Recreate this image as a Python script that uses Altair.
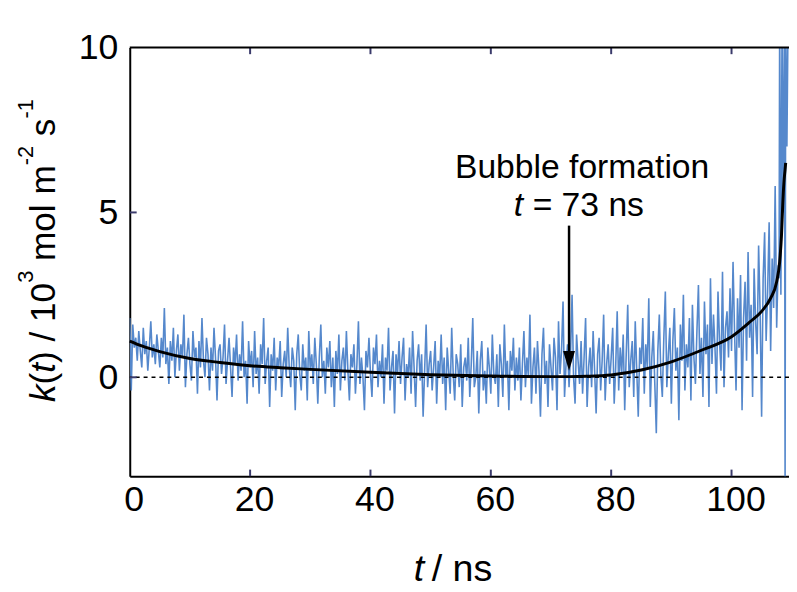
import altair as alt
import pandas as pd

FONT = "Liberation Sans"

# ---- noisy k(t) series (t = 0, 0.25, ... 107.75 ns) ----
k_raw = [
    1.8, -0.4, 1.6, 0.9, 1.2, 0.5, 1.4, 0.8, 0.3, 1.5, 0.7, 1.1, 0.2, 0.9, 1.7, 0.6, 1.0, 0.4, 1.3, 0.8,
    0.3, 1.2, 0.6, 2.1, 0.4, 0.9, -0.2, 1.1, 0.5, 1.5, 0.0, 0.8, 1.3, 0.2, 1.0, 0.6, 1.9, -0.3, 0.7, 1.2,
    0.4, -0.1, 1.4, 0.6, 0.9, -0.5, 1.1, 0.3, 1.8, 0.5, 0.0, 1.2, 0.7, -0.4, 0.9, 0.2, 1.5, 0.6, -0.7, 0.8,
    1.0, 0.1, 0.6, 1.6, -0.2, 0.5, 1.2, 0.3, -0.6, 0.9, 0.4, 1.3, -0.1, 0.7, 0.2, 1.7, 0.0, 0.5, -0.8, 1.1,
    0.3, 0.8, -0.3, 1.4, 0.1, 0.6, -0.5, 1.0, 0.4, 1.8, -0.2, 0.5, 0.9, -0.9, 0.7, 0.2, 1.2, -0.4, 0.6, 0.3,
    1.1, -0.6, 0.4, 0.8, 0.0, 1.5, 0.3, -0.3, 0.9, 0.5, -1.0, 0.7, 1.3, 0.1, -0.4, 1.0, 0.2, 0.6, -0.7, 1.4,
    0.2, 0.7, -0.2, 1.2, 0.4, -0.8, 0.6, 1.6, 0.0, 0.5, -0.5, 0.9, 0.3, 1.1, -0.3, 0.6, -0.9, 0.8, 0.1, 1.3,
    -0.4, 0.5, 0.9, -0.1, 1.4, 0.2, -0.7, 0.7, 0.3, 1.0, -0.5, 0.4, 1.7, -0.2, 0.6, 0.0, -1.0, 0.8, 0.3, 1.2,
    0.1, -0.6, 0.9, 0.4, 1.3, -0.3, 0.5, 0.0, 1.0, -0.8, 0.6, 0.2, 1.5, -0.4, 0.3, 0.8, -1.1, 0.7, 0.1, 1.1,
    -0.2, 0.6, 1.2, -0.7, 0.4, 0.0, 0.9, -0.5, 1.4, 0.3, -0.9, 0.5, 1.0, -0.1, 0.7, -1.2, 0.2, 1.6, -0.3, 0.4,
    0.8, -0.4, 0.3, 1.1, -0.8, 0.5, 0.0, 1.3, -0.2, 0.6, -1.0, 0.9, 0.2, -0.5, 1.5, 0.1, -0.7, 0.7, 0.4, -0.3,
    1.0, -0.9, 0.3, 0.6, -0.1, 1.2, -0.6, 0.4, 1.8, -0.3, 0.0, 0.8, -1.1, 0.5, 1.1, -0.4, 0.2, -0.8, 0.9, 0.3,
    -0.5, 1.3, 0.1, -0.2, 0.7, -0.9, 1.0, 0.4, -0.6, 1.6, 0.0, 0.5, -1.0, 0.8, 0.2, 1.2, -0.4, 0.6, -0.1, 0.9,
    -0.7, 0.4, 1.4, -0.3, 0.6, 0.0, 1.9, -0.8, 0.3, 0.9, -0.5, 1.1, 0.2, -1.2, 0.7, 1.5, -0.2, 0.5, -0.9, 1.0,
    0.3, -0.4, 1.2, 0.6, -1.0, 1.7, 0.1, 0.8, 2.3, -0.6, 0.4, 1.0, -0.3, 0.7, 2.5, 0.0, -0.8, 1.3, 0.5, -0.2,
    1.1, -0.5, 0.6, 1.8, -0.9, 0.3, 0.9, -0.3, 1.4, 0.2, -1.1, 0.7, 1.2, -0.4, 0.5, 1.9, -0.7, 0.4, 1.0, -0.2,
    0.6, 1.5, -0.8, 0.3, 2.0, -0.4, 0.9, 0.1, 1.3, -1.0, 0.7, 2.2, -0.3, 0.5, 1.1, -0.6, 1.7, 0.2, -1.2, 0.9,
    0.4, 1.8, -0.5, 1.0, 0.3, 2.4, -0.9, 0.6, 1.4, -0.2, -1.7, 0.8, 1.9, 0.1, -0.6, 1.2, 2.6, -0.3, 0.7, 1.5,
    -0.8, 1.1, 2.1, 0.2, 0.9, -1.3, 1.6, 0.5, 2.5, -0.4, 1.0, 0.3, 1.8, -0.7, 2.2, 0.6, -0.2, 1.4, 2.8, 0.1,
    1.2, -0.6, 2.3, 0.7, 1.6, -0.9, 3.0, 0.4, 1.9, 0.9, -0.5, 2.6, 1.1, 0.2, 3.2, -0.3, 1.5, 2.0, 0.6, 2.7,
    0.8, 3.5, 1.4, -0.4, 2.4, 0.9, 3.1, -1.0, 1.8, 2.9, 0.5, 3.8, 1.2, 2.2, -0.6, 3.3, 1.7, 0.7, 4.0, 2.0,
    -1.2, 3.0, 4.4, 1.1, 2.6, 4.7, 0.8, 3.6, 2.1, 5.8, 1.5, 3.4,
]
t_raw = [round(0.25 * i, 2) for i in range(len(k_raw))]

# final burst at bubble formation
t_burst = [107.9, 108.0, 108.2, 108.4, 108.6, 108.8, 108.9, 109.0, 109.2, 109.4]
k_burst = [3.0, 11.0, 2.5, 11.0, 5.0, 11.0, -3.5, 11.0, 7.0, 11.0]

# ---- smooth fitted curve ----
t_fit = [0, 2, 5, 10, 15, 20, 25, 30, 40, 50, 60, 70, 73, 76, 80, 85, 90, 95,
         100, 103, 105, 106.5, 107.5, 108.0, 108.3, 108.5, 108.7, 108.9, 109.0]
k_fit = [1.1, 0.95, 0.78, 0.57, 0.45, 0.35, 0.29, 0.24, 0.15, 0.08, 0.04, 0.02,
         0.02, 0.03, 0.07, 0.22, 0.47, 0.82, 1.23, 1.67, 2.0, 2.4, 2.9, 3.5,
         4.3, 5.2, 5.9, 6.3, 6.5]

x_ticks = [20, 40, 60, 80, 100]
y_ticks = [0, 5]

raw = pd.DataFrame({"t": t_raw + t_burst, "k": k_raw + k_burst})
fit = pd.DataFrame({"t": t_fit, "k": k_fit})
xt = pd.DataFrame({"t": x_ticks})
yt = pd.DataFrame({"k": y_ticks})
one = pd.DataFrame({"z": [0]})

XMAX = 109.55
xs = alt.Scale(domain=[0, XMAX], nice=False, zero=False)
ys = alt.Scale(domain=[-3, 10], nice=False, zero=False)

X = alt.X("t:Q", scale=xs, axis=alt.Axis(values=[0, 20, 40, 60, 80, 100], title=None,
                                          labelPadding=7, labelFlush=False, labelOffset=4))
Y = alt.Y("k:Q", scale=ys, axis=alt.Axis(values=[0, 5, 10], title=None, labelPadding=12))

blue = alt.Chart(raw).mark_line(color="#5588cc", strokeWidth=1.6, clip=True).encode(x=X, y=Y)
zero = alt.Chart(one).mark_rule(color="black", strokeWidth=1.5, strokeDash=[4, 4]).encode(y=alt.datum(0, scale=ys))
topline = alt.Chart(one).mark_rule(color="black", strokeWidth=2).encode(y=alt.datum(10, scale=ys))
curve = alt.Chart(fit).mark_line(color="black", strokeWidth=3, interpolate="monotone").encode(x=X, y=Y)

TICKC = "#3b3b6b"
bt = alt.Chart(xt).mark_rule(color=TICKC, strokeWidth=2).encode(
    x=alt.X("t:Q", scale=xs), y=alt.datum(-3), y2=alt.datum(-2.8))
tt = alt.Chart(xt).mark_rule(color=TICKC, strokeWidth=2).encode(
    x=alt.X("t:Q", scale=xs), y=alt.datum(10), y2=alt.datum(9.8))
lt = alt.Chart(yt).mark_rule(color=TICKC, strokeWidth=2).encode(
    y=alt.Y("k:Q", scale=ys), x=alt.datum(0), x2=alt.datum(1.15))

arrow = pd.DataFrame({"t": [73], "k": [4.6], "k2": [0.75], "kh": [0.5]})
shaft = alt.Chart(arrow).mark_rule(color="black", strokeWidth=2.5).encode(
    x=alt.X("t:Q", scale=xs), y=alt.Y("k:Q", scale=ys), y2="k2:Q")
head = alt.Chart(arrow).mark_point(shape="M-0.6,-1L0.6,-1L0,1Z", filled=True, size=400,
                                   color="black", opacity=1, strokeWidth=0).encode(
    x=alt.X("t:Q", scale=xs), y=alt.Y("kh:Q", scale=ys))


def txt(s, x, y, size, italic=False, angle=0, align="left"):
    return alt.Chart(one).mark_text(
        text=s, font=FONT, fontSize=size, fontStyle="italic" if italic else "normal",
        angle=angle, align=align, baseline="alphabetic", color="black"
    ).encode(x=alt.value(x), y=alt.value(y))


texts = []
# annotation
texts.append(txt("Bubble formation", 457, 132, 34, align="center"))
texts.append(txt("t", 388, 170, 34, italic=True))
texts.append(txt("= 73 ns", 407, 170, 34))
# x title
texts.append(txt("t", 287, 539, 38, italic=True))
texts.append(txt("/ ns", 305, 539, 38))

# y title, laid out bottom-to-top with Arial advance widths
W = {"k": 500, "(": 333, "t": 278, ")": 333, " ": 278, "/": 278, "1": 556, "0": 556,
     "3": 556, "m": 833, "o": 556, "l": 222, "-": 333, "2": 556, "s": 500}
MAIN, SUP = 35.5, 22
pieces = [("k", MAIN, True, False), ("(", MAIN, False, False), ("t", MAIN, True, False),
          (") / 10", MAIN, False, False), ("3", SUP, False, True),
          (" mol m", MAIN, False, False), ("-2", SUP, False, True),
          (" s", MAIN, False, False), ("-1", SUP, False, True)]
ypos = 403 - 45
for s, size, ital, sup in pieces:
    lead = 0
    s2 = s
    while s2.startswith(" "):
        lead += W[" "] * size / 1000
        s2 = s2[1:]
    ypos -= lead
    texts.append(txt(s2, (33 if sup else 55) - 131, ypos, size, italic=ital, angle=270))
    ypos -= sum(W[c] for c in s2) * size / 1000

chart = alt.layer(blue, zero, curve, bt, tt, lt, topline, shaft, head, *texts).properties(
    width=666, height=433,
    padding={"left": 123, "top": 37, "right": 0, "bottom": 114},
    autosize=alt.AutoSizeParams(type="none"),
).configure_axis(
    grid=False, domainColor="black", domainWidth=2, ticks=False,
    labelFont=FONT, labelFontSize=36, labelColor="black",
).configure_view(stroke=None)

chart.save("out.html", embed_options={"renderer": "svg", "actions": False})
